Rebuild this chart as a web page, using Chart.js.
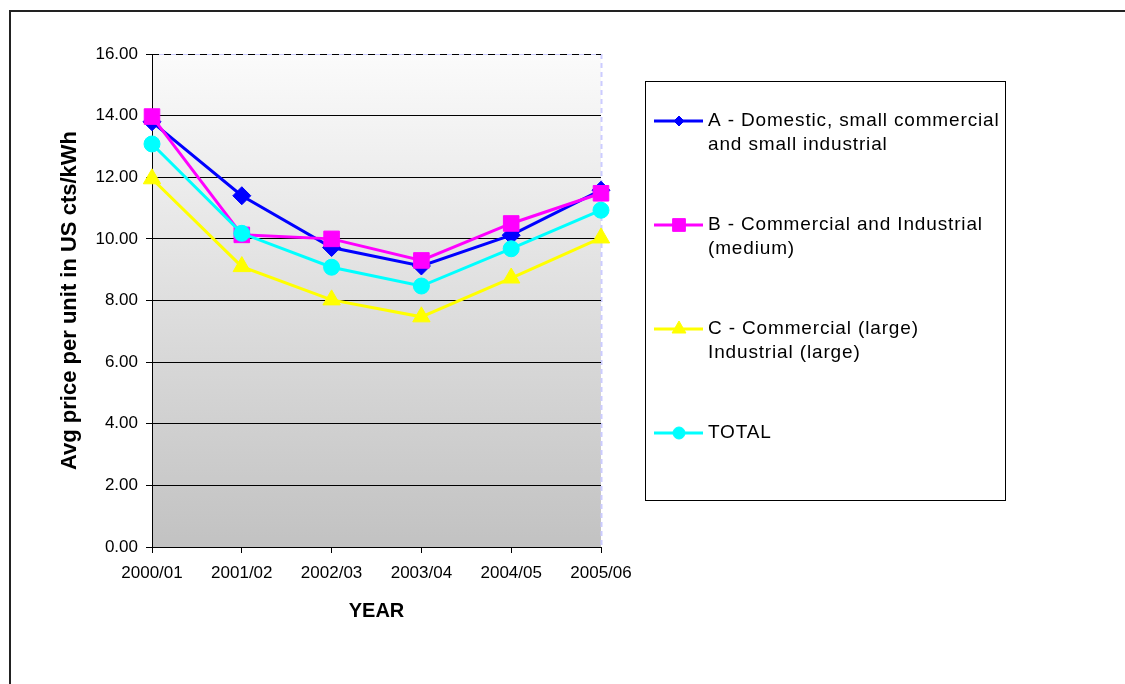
<!DOCTYPE html>
<html>
<head>
<meta charset="utf-8">
<title>Avg price per unit</title>
<script src="https://cdn.jsdelivr.net/npm/chart.js@4.4.0/dist/chart.umd.min.js"></script>
<style>
  html, body { margin: 0; padding: 0; background: #fff; }
  #wrap { width: 1125px; height: 684px; }
</style>
</head>
<body>
<div id="wrap"><canvas id="priceChart" width="1125" height="684"></canvas></div>
<script>
// values (US cts/kWh)
const years = ['2000/01', '2001/02', '2002/03', '2003/04', '2004/05', '2005/06'];
const seriesA = [13.80, 11.40, 9.72, 9.12, 10.12, 11.58];
const seriesB = [13.97, 10.13, 10.00, 9.30, 10.50, 11.48];
const seriesC = [11.95, 9.10, 8.02, 7.47, 8.73, 10.03];
const seriesTotal = [13.08, 10.18, 9.08, 8.47, 9.68, 10.93];

// legend text, split the way the reference wraps it
const seriesNames = [
    ['A - Domestic, small commercial', 'and small industrial'],
    ['B - Commercial and Industrial', '(medium)'],
    ['C - Commercial (large)', 'Industrial (large)'],
    ['TOTAL']
];
const yTicksMin = 0;
const yTicksMax = 16;
const yTicksStep = 2;

const FONT = "Arial, 'Liberation Sans', sans-serif";
Chart.defaults.color = '#000';
Chart.defaults.font.family = FONT;

function makeSet(i, data, color, style, radius) {
    return {
        label: seriesNames[i].join(' '),
        data: data,
        borderColor: color,
        backgroundColor: color,
        pointBackgroundColor: color,
        pointBorderColor: color,
        pointStyle: style,
        pointRadius: radius,
        pointHoverRadius: radius,
        pointBorderWidth: 1,
        borderWidth: 3,
        tension: 0,
        clip: false,
        order: 4 - i
    };
}

const legendRadius = [5, 9, 8, 6];

// background, frame and the custom legend box on the right
const frame = {
    id: 'frame',
    beforeDraw(chart) {
        const { ctx, chartArea: a } = chart;
        ctx.save();
        ctx.strokeStyle = '#222';
        ctx.lineWidth = 2;
        ctx.beginPath();
        ctx.moveTo(10, 1000);
        ctx.lineTo(10, 11);
        ctx.lineTo(1200, 11);
        ctx.stroke();

        const g = ctx.createLinearGradient(0, a.top, 0, a.bottom);
        g.addColorStop(0, '#fbfbfb');
        g.addColorStop(1, '#c2c2c2');
        ctx.fillStyle = g;
        ctx.fillRect(a.left, a.top, a.right - a.left, a.bottom - a.top);

        // dashed edges of the plot area
        ctx.lineWidth = 1;
        ctx.strokeStyle = '#ccccff';
        ctx.beginPath();
        ctx.moveTo(a.left, a.top + 0.5);
        ctx.lineTo(a.right, a.top + 0.5);
        ctx.moveTo(a.left, a.bottom + 0.5);
        ctx.lineTo(a.right, a.bottom + 0.5);
        ctx.stroke();
        ctx.lineWidth = 2;
        ctx.setLineDash([5, 4]);
        ctx.beginPath();
        ctx.moveTo(a.right + 0.5, a.top);
        ctx.lineTo(a.right + 0.5, a.bottom);
        ctx.stroke();
        ctx.lineWidth = 1;
        ctx.strokeStyle = '#000';
        ctx.setLineDash([7, 5]);
        ctx.beginPath();
        ctx.moveTo(a.left, a.top + 0.5);
        ctx.lineTo(a.right, a.top + 0.5);
        ctx.stroke();
        ctx.restore();
    },
    afterDraw(chart) {
        const { ctx } = chart;
        ctx.save();
        ctx.strokeStyle = '#000';
        ctx.lineWidth = 1;
        ctx.strokeRect(645.5, 81.5, 360, 419);

        ctx.font = '19px ' + FONT;
        ctx.letterSpacing = '0.85px';
        ctx.textBaseline = 'middle';
        ctx.textAlign = 'left';
        chart.data.datasets.forEach((ds, i) => {
            const y = 121 + i * 104;
            ctx.strokeStyle = ds.borderColor;
            ctx.lineWidth = 3;
            ctx.beginPath();
            ctx.moveTo(654, y);
            ctx.lineTo(703, y);
            ctx.stroke();
            ctx.fillStyle = ds.pointBackgroundColor;
            ctx.lineWidth = 1;
            Chart.helpers.drawPoint(ctx, { pointStyle: ds.pointStyle, radius: legendRadius[i], borderWidth: 1, rotation: 0 }, 679, y);
            ctx.fillStyle = '#000';
            seriesNames[i].forEach((line, k) => {
                ctx.fillText(line, 708, y + k * 24);
            });
        });
        ctx.restore();
    }
};

const ctx = document.getElementById('priceChart').getContext('2d');
const priceChart = new Chart(ctx, {
    type: 'line',
    data: {
        labels: years,
        datasets: [
            makeSet(0, seriesA, '#0000ff', 'rectRot', 9),
            makeSet(1, seriesB, '#ff00ff', 'rect', 11),
            makeSet(2, seriesC, '#ffff00', 'triangle', 10),
            makeSet(3, seriesTotal, '#00ffff', 'circle', 8)
        ]
    },
    options: {
        responsive: false,
        animation: false,
        devicePixelRatio: 1,
        layout: { padding: { left: 53, top: 54, right: 524, bottom: 57 } },
        plugins: {
            legend: { display: false },
            tooltip: { enabled: false }
        },
        scales: {
            x: {
                offset: false,
                afterFit: s => { s.height = 80; },
                grid: { drawOnChartArea: false, tickLength: 6, tickColor: '#000' },
                border: { display: true, color: '#000', dash: [8, 4] },
                ticks: { font: { size: 17 }, padding: 10, maxRotation: 0 },
                title: {
                    display: true,
                    text: 'YEAR',
                    font: { size: 20, weight: 'bold' },
                    padding: { top: 4, bottom: 4 }
                }
            },
            y: {
                min: yTicksMin,
                max: yTicksMax,
                afterFit: s => { s.width = 99; },
                grid: {
                    tickLength: 6,
                    tickColor: '#000',
                    color: c => (c.tick && (c.tick.value === yTicksMax || c.tick.value === yTicksMin)) ? 'rgba(0,0,0,0)' : '#000'
                },
                border: { display: true, color: '#000' },
                ticks: {
                    stepSize: yTicksStep,
                    font: { size: 17 },
                    padding: 8,
                    callback: v => v.toFixed(2)
                },
                title: {
                    display: true,
                    text: 'Avg price per unit in US cts/kWh',
                    font: { size: 22, weight: 'bold' },
                    padding: { top: 4, bottom: 4 }
                }
            }
        }
    },
    plugins: [frame]
});
</script>
</body>
</html>
